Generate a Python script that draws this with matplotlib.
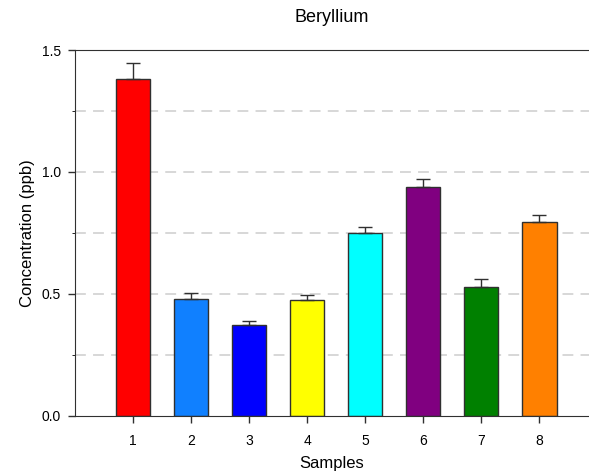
import matplotlib.pyplot as plt
from matplotlib.ticker import MultipleLocator

plt.rcParams['font.family'] = ['Liberation Sans', 'DejaVu Sans']

samples = [1, 2, 3, 4, 5, 6, 7, 8]
conc = [1.38, 0.478, 0.372, 0.474, 0.751, 0.937, 0.530, 0.794]
err = [0.067, 0.025, 0.019, 0.021, 0.022, 0.033, 0.030, 0.031]
colors = ['#ff0000', '#1080ff', '#0000ff', '#ffff00', '#00ffff', '#800080', '#008000', '#ff8000']

fig = plt.figure(figsize=(5.89, 4.74), dpi=100)
ax = fig.add_axes([0.1273, 0.1224, 0.8727, 0.7721])

# light dashed reference lines
for y in [0.25, 0.5, 0.75, 1.0, 1.25]:
    ax.axhline(y, color='#d4d4d4', lw=1.3, ls=(0, (6, 4)), zorder=0)

ax.bar(samples, conc, width=0.6, color=colors, edgecolor='#303030', lw=1.0, zorder=2,
       yerr=[[0] * len(err), err], error_kw=dict(ecolor='#303030', elinewidth=1.0, capsize=5, capthick=1.0))

ax.set_xlim(0, 8.86)
ax.set_ylim(0, 1.5)
ax.set_xticks(samples)
ax.yaxis.set_major_locator(MultipleLocator(0.5))
ax.yaxis.set_minor_locator(MultipleLocator(0.25))
ax.tick_params(axis='both', labelsize=10, color='#303030', width=1.0, length=5)
ax.tick_params(axis='x', pad=8)
ax.tick_params(axis='y', pad=5)
ax.tick_params(axis='y', which='minor', length=2)
ax.spines['right'].set_visible(False)
for s in ['top', 'left', 'bottom']:
    ax.spines[s].set_color('#303030')

ax.set_xlabel('Samples', fontsize=12, labelpad=6)
ax.set_ylabel('Concentration (ppb)', fontsize=12, labelpad=5)
ax.set_title('Beryllium', fontsize=13, pad=20)

fig.savefig('out.png', dpi=100)
